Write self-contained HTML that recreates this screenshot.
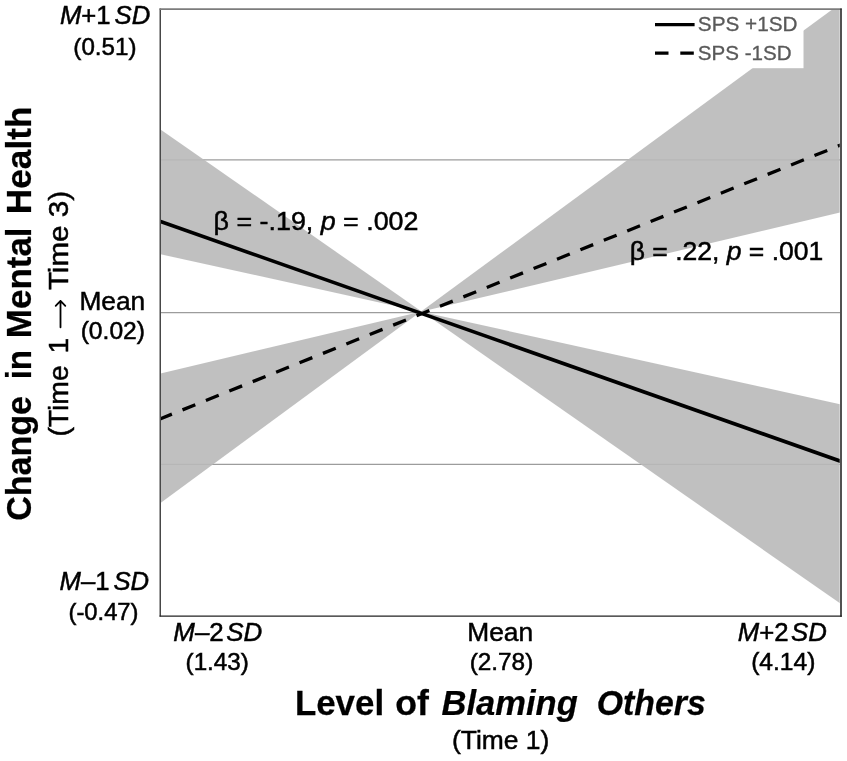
<!DOCTYPE html>
<html><head><meta charset="utf-8">
<style>
html,body{margin:0;padding:0;background:#fff;}
body{width:847px;height:761px;overflow:hidden;position:relative;font-family:"Liberation Sans",sans-serif;}
svg{position:absolute;left:0;top:0;will-change:transform;}
text{font-family:"Liberation Sans",sans-serif;white-space:pre;}
</style></head><body>
<svg width="847" height="761" viewBox="0 0 847 761">
<defs><clipPath id="pc"><rect x="160.5" y="9.5" width="679.2" height="606"/></clipPath></defs>
<rect x="0" y="0" width="847" height="761" fill="#fff"/>
<!-- gridlines -->
<g stroke="#9c9c9c" stroke-width="1.3">
<line x1="161" y1="159.9" x2="840" y2="159.9"/>
<line x1="161" y1="312.6" x2="840" y2="312.6"/>
<line x1="161" y1="464.4" x2="840" y2="464.4"/>
</g>
<!-- confidence bands -->
<g clip-path="url(#pc)" fill="rgb(185,185,185)" fill-opacity="0.9">
<polygon points="160.5,129.4 422.3,312 160.5,254.2"/>
<polygon points="422.3,312 840,404.2 840,603.3"/>
<polygon points="160.5,373.4 420.7,311.8 160.5,502.9"/>
<polygon points="420.7,311.8 840,3.8 840,212.5"/>
</g>
<!-- legend background -->
<rect x="640" y="10" width="163.5" height="58.2" fill="#fff"/>
<!-- regression lines -->
<g clip-path="url(#pc)" stroke="#000" stroke-width="3.6" fill="none">
<line x1="160.5" y1="221.5" x2="840.5" y2="461.2"/>
<line x1="159.1" y1="419.3" x2="842.2" y2="144.4" stroke-width="3.3" stroke-dasharray="13.8 11.43"/>
</g>
<!-- plot frame -->
<line x1="160.25" y1="8.5" x2="160.25" y2="616.6" stroke="#484848" stroke-width="1.5"/>
<line x1="159.5" y1="9.1" x2="841.8" y2="9.1" stroke="#7c7c7c" stroke-width="1.6"/>
<line x1="841" y1="8.5" x2="841" y2="616.8" stroke="#333" stroke-width="1.7"/>
<line x1="159.5" y1="616.1" x2="841.8" y2="616.1" stroke="#222" stroke-width="1.4"/>
<!-- legend keys -->
<line x1="655" y1="24.7" x2="694.6" y2="24.7" stroke="#000" stroke-width="3.3"/>
<line x1="655" y1="53.2" x2="694.6" y2="53.2" stroke="#000" stroke-width="3.3" stroke-dasharray="13.5 11.8"/>
<!-- arrow in y subtitle -->
<path d="M60.5 327.3 L60.5 301 M55.7 305.8 L60.5 300.9 L65.3 305.8" fill="none" stroke="#000" stroke-width="1.8" stroke-linecap="round" stroke-linejoin="round"/>
<!-- text -->
<text font-size="19.5" font-weight="normal" font-style="normal" fill="#595959" stroke="#595959" stroke-width="0.3" transform="translate(697.84,31.10) scale(1.0630,1)">SPS +1SD</text>
<text font-size="19.5" font-weight="normal" font-style="normal" fill="#595959" stroke="#595959" stroke-width="0.3" transform="translate(697.84,59.60) scale(1.0552,1)">SPS -1SD</text>
<text font-size="26" font-weight="normal" font-style="normal" fill="#000" stroke="#000" stroke-width="0.5" transform="translate(59.90,24.30) scale(0.9890,1)"><tspan font-style="italic">M</tspan>+1<tspan font-style="italic" dx="4">SD</tspan></text>
<text font-size="23.3" font-weight="normal" font-style="normal" fill="#000" stroke="#000" stroke-width="0.5" transform="translate(73.36,54.50) scale(1.0373,1)">(0.51)</text>
<text font-size="26" font-weight="normal" font-style="normal" fill="#000" stroke="#000" stroke-width="0.5" transform="translate(79.38,309.60) scale(1.0113,1)">Mean</text>
<text font-size="23.3" font-weight="normal" font-style="normal" fill="#000" stroke="#000" stroke-width="0.5" transform="translate(80.64,339.40) scale(1.0576,1)">(0.02)</text>
<text font-size="26" font-weight="normal" font-style="normal" fill="#000" stroke="#000" stroke-width="0.5" transform="translate(59.50,590.40) scale(0.9879,1)"><tspan font-style="italic">M</tspan>–1<tspan font-style="italic" dx="4">SD</tspan></text>
<text font-size="23.3" font-weight="normal" font-style="normal" fill="#000" stroke="#000" stroke-width="0.5" transform="translate(68.48,619.60) scale(1.0209,1)">(-0.47)</text>
<text font-size="26" font-weight="normal" font-style="normal" fill="#000" stroke="#000" stroke-width="0.5" transform="translate(173.30,641.00) scale(0.9978,1)"><tspan font-style="italic">M</tspan>–2<tspan font-style="italic" dx="2.5">SD</tspan></text>
<text font-size="23.3" font-weight="normal" font-style="normal" fill="#000" stroke="#000" stroke-width="0.5" transform="translate(185.56,670.20) scale(1.0407,1)">(1.43)</text>
<text font-size="26" font-weight="normal" font-style="normal" fill="#000" stroke="#000" stroke-width="0.5" transform="translate(467.27,641.40) scale(1.0129,1)">Mean</text>
<text font-size="23.3" font-weight="normal" font-style="normal" fill="#000" stroke="#000" stroke-width="0.5" transform="translate(469.65,670.20) scale(1.0458,1)">(2.78)</text>
<text font-size="26" font-weight="normal" font-style="normal" fill="#000" stroke="#000" stroke-width="0.5" transform="translate(737.70,641.00) scale(0.9911,1)"><tspan font-style="italic">M</tspan>+2<tspan font-style="italic" dx="2.5">SD</tspan></text>
<text font-size="23.3" font-weight="normal" font-style="normal" fill="#000" stroke="#000" stroke-width="0.5" transform="translate(751.14,670.20) scale(1.0559,1)">(4.14)</text>
<text font-size="35.8" font-weight="bold" font-style="normal" fill="#000" stroke="#000" stroke-width="0.25" transform="translate(294.95,714.90) scale(0.9736,1)">Level</text>
<text font-size="35.8" font-weight="bold" font-style="normal" fill="#000" stroke="#000" stroke-width="0.25" transform="translate(395.30,714.90) scale(0.9970,1)">of</text>
<text font-size="35.8" font-weight="bold" font-style="italic" fill="#000" stroke="#000" stroke-width="0.25" transform="translate(441.60,714.90) scale(0.9645,1)">Blaming</text>
<text font-size="35.8" font-weight="bold" font-style="italic" fill="#000" stroke="#000" stroke-width="0.25" transform="translate(596.76,714.90) scale(0.9447,1)">Others</text>
<text font-size="26" font-weight="normal" font-style="normal" fill="#000" stroke="#000" stroke-width="0.5" transform="translate(451.98,749.00) scale(1.0160,1)">(Time 1)</text>
<text font-size="35.8" font-weight="bold" font-style="normal" fill="#000" stroke="#000" stroke-width="0.25" transform="translate(31.10,520.85) rotate(-90) scale(0.9512,1)">Change</text>
<text font-size="35.8" font-weight="bold" font-style="normal" fill="#000" stroke="#000" stroke-width="0.25" transform="translate(31.10,379.35) rotate(-90) scale(0.9250,1)">in</text>
<text font-size="35.8" font-weight="bold" font-style="normal" fill="#000" stroke="#000" stroke-width="0.25" transform="translate(31.10,338.15) rotate(-90) scale(0.9771,1)">Mental</text>
<text font-size="35.8" font-weight="bold" font-style="normal" fill="#000" stroke="#000" stroke-width="0.25" transform="translate(31.10,214.17) rotate(-90) scale(0.9840,1)">Health</text>
<text font-size="28.3" font-weight="normal" font-style="normal" fill="#000" stroke="#000" stroke-width="0.5" transform="translate(67.80,436.60) rotate(-90) scale(1.0000,1)">(Time</text>
<text font-size="28.3" font-weight="normal" font-style="normal" fill="#000" stroke="#000" stroke-width="0.5" transform="translate(67.80,353.50) rotate(-90) scale(1.0000,1)">1</text>
<text font-size="28.3" font-weight="normal" font-style="normal" fill="#000" stroke="#000" stroke-width="0.5" transform="translate(67.80,290.10) rotate(-90) scale(1.0457,1)">Time 3)</text>
<text font-size="26.5" font-weight="normal" font-style="normal" fill="#000" stroke="#000" stroke-width="0.5" transform="translate(213.59,230.20) scale(1.0129,1)">β = -.19, <tspan font-style="italic">p</tspan> = .002</text>
<text font-size="26.5" font-weight="normal" font-style="normal" fill="#000" stroke="#000" stroke-width="0.5" transform="translate(629.70,260.30) scale(1.0005,1)">β = .22, <tspan font-style="italic">p</tspan> = .001</text>
</svg>
</body></html>
